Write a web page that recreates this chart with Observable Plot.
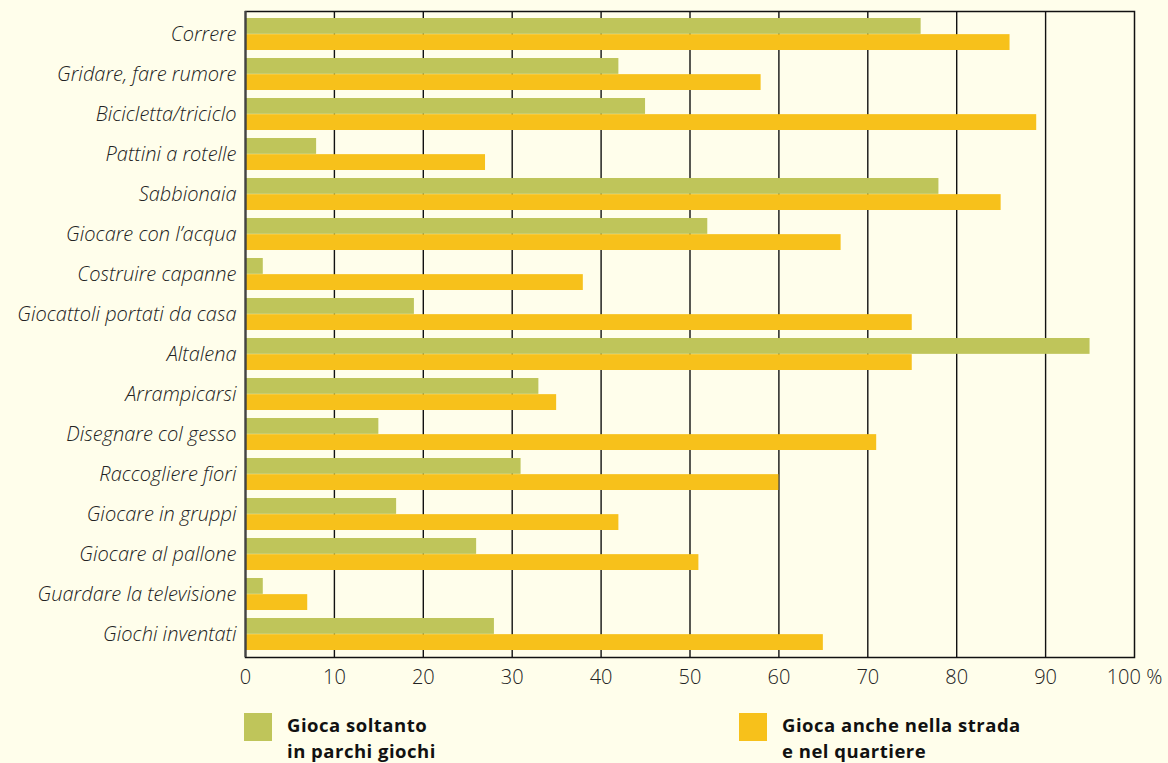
<!DOCTYPE html>
<html>
<head>
<meta charset="utf-8">
<script src="https://cdn.jsdelivr.net/npm/d3@7"></script>
<script src="https://cdn.jsdelivr.net/npm/@observablehq/plot@0.6"></script>
<style>
  html, body { margin: 0; padding: 0; background: #fffeeb; }
  body { width: 1168px; height: 763px; position: relative; overflow: hidden; font-family: "Open Sans", sans-serif; }
  #chart { position: absolute; left: 0; top: 0; }
  .legend-item { position: absolute; top: 713px; display: flex; align-items: flex-start; }
  .swatch { width: 28px; height: 28px; margin-right: 15px; }
  .legend-text { font-family: "Open Sans", sans-serif; font-weight: 700; font-size: 18.5px; letter-spacing: 0.5px; line-height: 25.5px; color: #111; margin-top: -1px; }
</style>
</head>
<body>
<div id="chart"></div>
<div class="legend-item" style="left:244px"><div class="swatch" style="background:#bfc55a"></div><div class="legend-text">Gioca soltanto<br>in parchi giochi</div></div>
<div class="legend-item" style="left:739px"><div class="swatch" style="background:#f7c11b"></div><div class="legend-text">Gioca anche nella strada<br>e nel quartiere</div></div>
<script>
const categories = [
  "Correre", "Gridare, fare rumore", "Bicicletta/triciclo", "Pattini a rotelle",
  "Sabbionaia", "Giocare con l’acqua", "Costruire capanne", "Giocattoli portati da casa",
  "Altalena", "Arrampicarsi", "Disegnare col gesso", "Raccogliere fiori",
  "Giocare in gruppi", "Giocare al pallone", "Guardare la televisione", "Giochi inventati"
];
const soloParchi = [76, 42, 45, 8, 78, 52, 2, 19, 95, 33, 15, 31, 17, 26, 2, 28];
const ancheStrada = [86, 58, 89, 27, 85, 67, 38, 75, 75, 35, 71, 60, 42, 51, 7, 65];
const xTicks = [0, 10, 20, 30, 40, 50, 60, 70, 80, 90, 100];

const green = categories.map((c, i) => ({cat: c, v: soloParchi[i]}));
const orange = categories.map((c, i) => ({cat: c, v: ancheStrada[i]}));

const W = 1168, H = 700, mTop = 11, mBottom = 43;
const n = categories.length, pIn = 0.2, pOut = 0.1;
const step = (H - mTop - mBottom) / (n - pIn + 2 * pOut);
const half = step * (1 - pIn) / 2;

const chart = Plot.plot({
  width: W, height: H,
  marginLeft: 245, marginRight: 34, marginTop: mTop, marginBottom: mBottom,
  style: {background: "transparent", color: "#222"},
  x: {domain: [0, 100]},
  y: {domain: categories, paddingInner: pIn, paddingOuter: pOut},
  marks: [
    Plot.ruleX(xTicks.slice(1, -1), {stroke: "#111", strokeWidth: 1.4}),
    Plot.barX(green, {y: "cat", x: "v", fill: "#bfc55a", insetBottom: half}),
    Plot.barX(orange, {y: "cat", x: "v", fill: "#f7c11b", insetTop: half}),
    Plot.frame({stroke: "#111", strokeWidth: 1.5}),
    Plot.ruleX([0], {stroke: "#444", strokeWidth: 2.2}),
    Plot.axisY({tickSize: 0, tickPadding: 9, fontSize: 20, fontStyle: "italic", fontWeight: 300, fontFamily: "Open Sans", fill: "#222", label: null}),
    Plot.axisX({ticks: xTicks, tickSize: 0, tickPadding: 12, fontSize: 20, fontWeight: 300, fontFamily: "Open Sans", fill: "#222", label: null,
      tickFormat: d => d === 100 ? "100 %" : String(d)})
  ]
});
document.getElementById("chart").appendChild(chart);
</script>
</body>
</html>
